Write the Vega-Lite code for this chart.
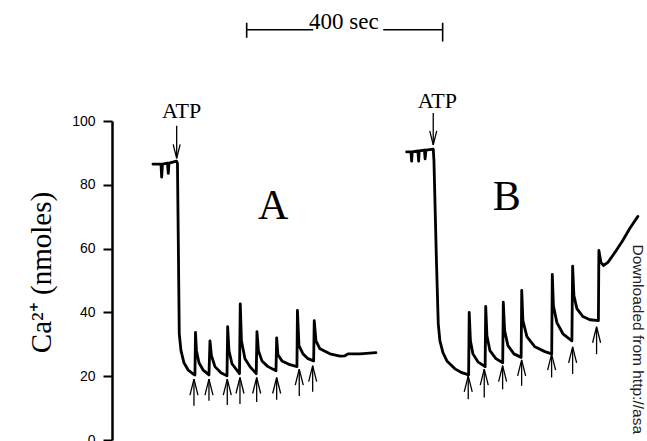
{
  "$schema": "https://vega.github.io/schema/vega-lite/v6.json",
  "width": 535,
  "height": 319,
  "autosize": {"type": "none"},
  "padding": {"left": 112, "top": 121, "right": 0, "bottom": 1},
  "background": "white",
  "config": {"view": {"stroke": null}},
  "datasets": {
    "traces": [
      {"s":"A","t":81.6,"v":86.5},{"s":"A","t":98.0,"v":86.5},{"s":"A","t":99.4,"v":82.4},{"s":"A","t":101.0,"v":86.5},
      {"s":"A","t":111.2,"v":86.8},{"s":"A","t":112.9,"v":83.6},{"s":"A","t":114.3,"v":86.8},{"s":"A","t":129.6,"v":87.4},
      {"s":"A","t":131.6,"v":86.8},{"s":"A","t":133.3,"v":62.6},{"s":"A","t":135.3,"v":33.3},{"s":"A","t":138.8,"v":28.0},
      {"s":"A","t":144.9,"v":24.2},{"s":"A","t":153.1,"v":22.0},{"s":"A","t":164.3,"v":20.6},{"s":"A","t":167.3,"v":20.4},
      {"s":"A","t":168.4,"v":33.7},{"s":"A","t":170.4,"v":28.0},{"s":"A","t":175.5,"v":24.2},{"s":"A","t":183.7,"v":22.0},
      {"s":"A","t":195.9,"v":20.4},{"s":"A","t":198.0,"v":31.1},{"s":"A","t":201.0,"v":26.4},{"s":"A","t":208.2,"v":23.0},
      {"s":"A","t":220.4,"v":21.1},{"s":"A","t":232.7,"v":20.1},{"s":"A","t":234.1,"v":35.5},{"s":"A","t":236.7,"v":28.0},
      {"s":"A","t":242.9,"v":23.9},{"s":"A","t":258.2,"v":20.8},{"s":"A","t":259.8,"v":42.7},{"s":"A","t":262.2,"v":31.1},
      {"s":"A","t":269.4,"v":25.5},{"s":"A","t":279.6,"v":23.0},{"s":"A","t":292.4,"v":20.8},{"s":"A","t":293.9,"v":34.0},
      {"s":"A","t":296.9,"v":28.0},{"s":"A","t":304.1,"v":24.8},{"s":"A","t":316.3,"v":23.0},{"s":"A","t":332.7,"v":21.7},
      {"s":"A","t":334.1,"v":32.0},{"s":"A","t":336.7,"v":26.7},{"s":"A","t":344.9,"v":24.8},{"s":"A","t":361.2,"v":23.6},
      {"s":"A","t":375.5,"v":23.0},{"s":"A","t":376.5,"v":40.6},{"s":"A","t":379.6,"v":29.6},{"s":"A","t":387.8,"v":27.0},
      {"s":"A","t":398.0,"v":25.5},{"s":"A","t":409.6,"v":24.8},{"s":"A","t":410.8,"v":37.4},{"s":"A","t":414.3,"v":31.1},
      {"s":"A","t":422.4,"v":28.6},{"s":"A","t":442.9,"v":27.0},{"s":"A","t":463.3,"v":26.3},{"s":"A","t":473.5,"v":26.4},
      {"s":"A","t":479.6,"v":27.0},{"s":"A","t":504.1,"v":27.0},{"s":"A","t":536.7,"v":27.4},
      {"s":"B","t":599.4,"v":90.3},{"s":"B","t":608.2,"v":90.3},{"s":"B","t":609.6,"v":87.4},{"s":"B","t":610.8,"v":90.3},
      {"s":"B","t":622.4,"v":90.6},{"s":"B","t":623.9,"v":87.4},{"s":"B","t":625.1,"v":90.6},{"s":"B","t":635.7,"v":90.9},
      {"s":"B","t":637.1,"v":88.1},{"s":"B","t":638.8,"v":90.9},{"s":"B","t":653.7,"v":91.2},{"s":"B","t":655.1,"v":87.7},
      {"s":"B","t":660.2,"v":56.3},{"s":"B","t":663.9,"v":36.5},{"s":"B","t":667.3,"v":31.1},{"s":"B","t":673.5,"v":27.4},
      {"s":"B","t":681.6,"v":24.8},{"s":"B","t":698.0,"v":22.3},{"s":"B","t":712.2,"v":21.1},{"s":"B","t":725.9,"v":20.4},
      {"s":"B","t":727.1,"v":40.0},{"s":"B","t":729.6,"v":31.1},{"s":"B","t":734.7,"v":27.0},{"s":"B","t":744.9,"v":24.5},
      {"s":"B","t":759.6,"v":23.0},{"s":"B","t":760.8,"v":41.9},{"s":"B","t":763.3,"v":32.7},{"s":"B","t":769.4,"v":28.0},
      {"s":"B","t":781.6,"v":25.5},{"s":"B","t":795.5,"v":24.2},{"s":"B","t":796.7,"v":43.2},{"s":"B","t":799.4,"v":34.3},
      {"s":"B","t":806.1,"v":29.6},{"s":"B","t":818.4,"v":27.0},{"s":"B","t":833.1,"v":25.9},{"s":"B","t":834.3,"v":46.9},
      {"s":"B","t":836.7,"v":37.4},{"s":"B","t":844.9,"v":32.4},{"s":"B","t":861.2,"v":29.2},{"s":"B","t":881.6,"v":27.7},
      {"s":"B","t":895.5,"v":27.0},{"s":"B","t":896.7,"v":51.9},{"s":"B","t":899.0,"v":42.1},{"s":"B","t":906.1,"v":36.8},
      {"s":"B","t":918.4,"v":33.3},{"s":"B","t":936.7,"v":31.1},{"s":"B","t":938.2,"v":54.5},{"s":"B","t":940.8,"v":45.3},
      {"s":"B","t":946.9,"v":41.2},{"s":"B","t":959.2,"v":38.7},{"s":"B","t":973.5,"v":37.7},{"s":"B","t":990.8,"v":37.4},
      {"s":"B","t":991.8,"v":59.4},{"s":"B","t":995.9,"v":55.7},{"s":"B","t":1001.0,"v":54.7},{"s":"B","t":1010.2,"v":55.7},
      {"s":"B","t":1024.5,"v":58.8},{"s":"B","t":1040.8,"v":62.6},{"s":"B","t":1055.1,"v":66.4},{"s":"B","t":1071.4,"v":70.1}
    ],
    "upArrows": [
      {"t":165.3,"v":19.1,"v2":10.7},{"t":195.9,"v":19.1,"v2":12.3},{"t":233.3,"v":19.1,"v2":11.0},{"t":259.2,"v":19.6,"v2":11.3},
      {"t":293.3,"v":19.6,"v2":11.9},{"t":334.1,"v":19.6,"v2":12.6},{"t":380.2,"v":22.2,"v2":13.8},{"t":407.6,"v":23.3,"v2":15.1},
      {"t":725.1,"v":20.1,"v2":12.8},{"t":757.8,"v":22.2,"v2":13.3},{"t":795.3,"v":23.3,"v2":15.9},{"t":834.1,"v":25.1,"v2":17.0},
      {"t":895.3,"v":26.9,"v2":19.6},{"t":938.2,"v":29.2,"v2":20.7},{"t":987.1,"v":35.5,"v2":26.9}
    ],
    "downArrows": [
      {"t":130.0,"v":88.3,"v2":98.5},{"t":653.7,"v":92.5,"v2":102.5}
    ],
    "scaleBar": [
      {"t":272.9,"t2":408.8,"v":128.6,"v2":128.6},
      {"t":551.6,"t2":672.9,"v":128.6,"v2":128.6},
      {"t":272.9,"t2":272.9,"v":130.8,"v2":126.1},
      {"t":672.9,"t2":672.9,"v":130.8,"v2":124.9}
    ],
    "atp": [{"t":140.2,"v":100.8,"label":"ATP"},{"t":662.2,"v":104.0,"label":"ATP"}],
    "panels": [{"t":327.1,"v":69.4,"label":"A"},{"t":803.5,"v":72.0,"label":"B"}],
    "scaleText": [{"t":471.4,"v":128.8,"label":"400 sec"}],
    "note": [{"t":1061.0,"v":61.3,"label":"Downloaded from http://asa"}]
  },
  "encoding": {
    "x": {"field": "t", "type": "quantitative", "scale": {"domain": [-2, 1090], "nice": false, "zero": false}, "axis": null},
    "y": {
      "field": "v", "type": "quantitative",
      "scale": {"domain": [0, 100], "nice": false, "zero": false},
      "axis": {
        "values": [0, 20, 40, 60, 80, 100],
        "grid": false,
        "title": "Ca²⁺ (nmoles)",
        "titleFont": "Liberation Serif",
        "titleFontSize": 29,
        "titleFontWeight": "normal",
        "titleColor": "black",
        "titleAngle": -90,
        "titleAlign": "center",
        "titleBaseline": "alphabetic",
        "titleX": -62,
        "titleY": 151,
        "labelFont": "Liberation Sans",
        "labelFontSize": 14,
        "labelColor": "black",
        "labelPadding": 8,
        "domainColor": "black",
        "domainWidth": 2.5,
        "tickColor": "black",
        "tickWidth": 2,
        "tickSize": 9
      }
    }
  },
  "layer": [
    {
      "data": {"name": "traces"},
      "mark": {"type": "line", "color": "black", "strokeWidth": 2.8, "strokeJoin": "round", "strokeCap": "round"},
      "encoding": {"detail": {"field": "s"}}
    },
    {
      "data": {"name": "upArrows"},
      "mark": {"type": "rule", "color": "black", "strokeWidth": 1.3},
      "encoding": {"y2": {"field": "v2"}}
    },
    {
      "data": {"name": "upArrows"},
      "mark": {"type": "point", "shape": "M-0.5,2L0,0L0.5,2", "size": 256, "filled": false, "stroke": "black", "strokeWidth": 1.3, "opacity": 1}
    },
    {
      "data": {"name": "downArrows"},
      "mark": {"type": "rule", "color": "black", "strokeWidth": 1.3},
      "encoding": {"y2": {"field": "v2"}}
    },
    {
      "data": {"name": "downArrows"},
      "mark": {"type": "point", "shape": "M-0.5,-2L0,0L0.5,-2", "size": 196, "filled": false, "stroke": "black", "strokeWidth": 1.3, "opacity": 1}
    },
    {
      "data": {"name": "scaleBar"},
      "mark": {"type": "rule", "color": "black", "strokeWidth": 1.6},
      "encoding": {"x2": {"field": "t2"}, "y2": {"field": "v2"}}
    },
    {
      "data": {"name": "atp"},
      "mark": {"type": "text", "font": "Liberation Serif", "fontSize": 22, "color": "black", "align": "center", "baseline": "alphabetic"},
      "encoding": {"text": {"field": "label"}}
    },
    {
      "data": {"name": "panels"},
      "mark": {"type": "text", "font": "Liberation Serif", "fontSize": 42, "color": "black", "align": "center", "baseline": "alphabetic"},
      "encoding": {"text": {"field": "label"}}
    },
    {
      "data": {"name": "scaleText"},
      "mark": {"type": "text", "font": "Liberation Serif", "fontSize": 23, "color": "black", "align": "center", "baseline": "alphabetic"},
      "encoding": {"text": {"field": "label"}}
    },
    {
      "data": {"name": "note"},
      "mark": {"type": "text", "font": "Liberation Sans", "fontSize": 15.5, "color": "#222222", "align": "left", "baseline": "alphabetic", "angle": 90},
      "encoding": {"text": {"field": "label"}}
    }
  ]
}
